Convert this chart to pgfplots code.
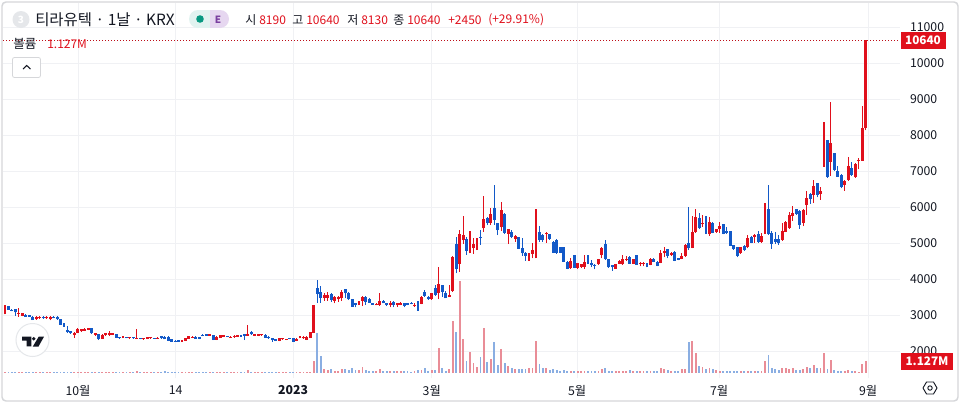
\documentclass[border=0pt]{standalone}
\usepackage{pgfplots}
\usepackage{pgfplotstable}
\pgfplotsset{compat=1.18}
\usepackage{fontspec}
\setmainfont{Noto Sans CJK KR}
\definecolor{cUp}{HTML}{E0101C}
\definecolor{cDn}{HTML}{1259C8}
\definecolor{vUp}{HTML}{E98D97}
\definecolor{vDn}{HTML}{8AAEE2}
\definecolor{cTxt}{HTML}{131722}
\definecolor{cGrid}{HTML}{F0F1F4}
\definecolor{cFrame}{HTML}{D6D7DA}
\definecolor{cBadgeA}{HTML}{E1F3F0}
\definecolor{cBadgeB}{HTML}{E6D7F0}
\definecolor{cGreen}{HTML}{089981}
\definecolor{cPurp}{HTML}{7B3FA0}
\pgfplotstableread{
i o h l c v
0 3030 3280 3020 3280 .09
1 3250 3260 3140 3150 .09
2 3150 3170 3100 3120 .09
3 3160 3170 2970 3070 .09
4 3030 3190 2950 3050 .09
5 2975 3060 2960 3045 .09
6 3010 3020 2950 2955 .09
7 2990 3000 2945 2955 .09
8 2955 2960 2855 2860 .09
9 2880 2970 2870 2950 .09
10 2910 2965 2900 2955 .09
11 2950 2960 2900 2910 .09
12 2905 2965 2900 2950 .09
13 2880 2965 2850 2955 .09
14 2955 2965 2905 2915 .09
15 2955 2960 2870 2880 .09
16 2880 2890 2725 2730 .09
17 2720 2780 2670 2675 .09
18 2580 2690 2500 2520 .09
19 2545 2560 2480 2490 .09
20 2440 2520 2370 2510 .09
21 2510 2630 2490 2610 .09
22 2545 2620 2530 2610 .09
23 2565 2630 2550 2620 .09
24 2585 2640 2570 2630 .09
25 2630 2640 2480 2490 .09
26 2445 2500 2430 2490 .09
27 2465 2470 2300 2325 .09
28 2345 2480 2330 2445 .09
29 2440 2500 2430 2490 .09
30 2445 2560 2430 2490 .09
31 2445 2500 2440 2490 .09
32 2465 2475 2360 2370 .09
33 2370 2380 2340 2350 .09
34 2370 2430 2355 2385 .09
35 2370 2385 2350 2360 .09
36 2360 2380 2330 2370 .09
37 2370 2385 2340 2350 .09
38 2335 2610 2330 2360 .19
39 2355 2365 2325 2335 .09
40 2325 2370 2315 2360 .09
41 2340 2390 2330 2380 .09
42 2350 2390 2340 2380 .09
43 2360 2370 2335 2345 .09
44 2345 2380 2335 2360 .09
45 2415 2425 2340 2350 .09
46 2400 2410 2320 2325 .19
47 2400 2410 2275 2280 .09
48 2325 2335 2255 2260 .09
49 2285 2295 2255 2260 .09
50 2305 2310 2255 2260 .09
51 2270 2310 2260 2300 .09
52 2285 2370 2275 2360 .09
53 2345 2430 2335 2415 .09
54 2370 2410 2360 2400 .09
55 2400 2410 2340 2345 .09
56 2380 2390 2325 2335 .09
57 2445 2460 2405 2415 .09
58 2465 2480 2420 2425 .09
59 2425 2475 2415 2465 .09
60 2445 2455 2300 2305 .09
61 2310 2410 2300 2400 .09
62 2370 2445 2360 2435 .09
63 2400 2445 2390 2435 .09
64 2420 2430 2385 2395 .09
65 2370 2410 2360 2400 .09
66 2380 2435 2370 2425 .09
67 2400 2455 2390 2445 .09
68 2430 2440 2390 2400 .09
69 2455 2465 2305 2430 .09
70 2425 2710 2415 2470 .3
71 2540 2550 2455 2465 .09
72 2425 2480 2415 2470 .09
73 2425 2480 2415 2470 .09
74 2435 2480 2425 2470 .09
75 2450 2460 2365 2370 .09
76 2400 2410 2345 2350 .09
77 2360 2370 2260 2305 .09
78 2325 2335 2275 2280 .09
79 2280 2360 2270 2350 .09
80 2325 2362 2315 2352 .09
81 2315 2340 2305 2330 .09
82 2350 2360 2325 2335 .09
83 2350 2360 2250 2260 .09
84 2285 2350 2275 2340 .09
85 2360 2410 2350 2400 .09
86 2350 2420 2340 2400 .09
87 2310 2430 2300 2400 .09
88 2370 2530 2360 2520 .1
89 2510 3280 2500 3280 1.12
90 3740 3972 3343 3583 3.79
91 3640 3805 3343 3470 1.6
92 3470 3620 3400 3545 .32
93 3480 3640 3400 3555 .26
94 3585 3600 3370 3415 .35
95 3400 3530 3320 3510 .22
96 3435 3530 3360 3510 .16
97 3460 3695 3400 3650 .35
98 3715 3730 3460 3600 .35
99 3620 3640 3415 3435 .26
100 3435 3450 3225 3230 .42
101 3325 3340 3210 3280 .26
102 3295 3400 3280 3360 .29
103 3400 3530 3250 3510 .55
104 3510 3530 3280 3370 .26
105 3455 3470 3335 3340 .19
106 3320 3330 3280 3285 .16
107 3270 3320 3265 3305 .16
108 3280 3600 3260 3400 .35
109 3400 3410 3320 3325 .19
110 3330 3340 3250 3285 .16
111 3280 3400 3210 3340 .16
112 3370 3400 3210 3280 .19
113 3270 3340 3230 3325 .16
114 3285 3350 3270 3335 .16
115 3325 3340 3215 3260 .16
116 3325 3340 3270 3285 .16
117 3340 3350 3295 3305 .1
118 3250 3325 3230 3290 .16
119 3325 3400 3120 3315 .26
120 3305 3530 3295 3510 .26
121 3650 3695 3510 3530 .45
122 3510 3530 3420 3435 .22
123 3435 3610 3420 3600 .26
124 3740 3830 3530 3565 .26
125 3620 4325 3435 3850 2.38
126 3830 3840 3510 3640 .45
127 3620 3675 3460 3460 .19
128 3500 3830 3500 3545 .35
129 3675 4640 3650 4600 4.98
130 4970 5180 4160 4270 3.92
131 4415 5360 4200 5240 8.8
132 5080 5750 4970 5220 3.24
133 5110 5180 4670 4790 1.12
134 4860 5330 4710 4920 1.99
135 4860 5130 4695 4970 .96
136 4860 5130 4800 4970 .55
137 5160 5360 4945 5140 1.54
138 5410 6300 5315 5660 4.3
139 5685 5730 5500 5545 1.06
140 5565 5960 5500 5805 1.32
141 5960 6610 5500 5640 2.95
142 5545 5565 5220 5360 .74
143 5435 6150 5340 5915 2.28
144 5800 5825 5250 5290 .96
145 5250 5380 4970 5380 .64
146 5305 5360 5130 5175 .42
147 5110 5220 5040 5195 .35
148 5160 5170 4830 4840 .35
149 4850 5130 4640 4710 .35
150 4730 4760 4510 4640 .35
151 4640 4730 4510 4710 .42
152 4695 5000 4575 4805 .48
153 4860 5935 4575 5130 3.05
154 5305 5470 5040 5085 .83
155 5220 5240 5040 5085 .45
156 5255 5305 5010 5270 .45
157 5240 5250 5090 5100 .29
158 5040 5060 4720 4730 .32
159 5085 5100 4700 4730 .26
160 4880 4900 4720 4730 .22
161 4880 4890 4470 4480 .26
162 4480 4490 4270 4280 .16
163 4295 4575 4280 4500 .16
164 4660 4670 4300 4315 .16
165 4315 4450 4285 4435 .16
166 4345 4430 4300 4410 .16
167 4340 4670 4290 4470 .22
168 4575 4670 4415 4435 .16
169 4435 4530 4320 4390 .16
170 4400 4415 4270 4370 .16
171 4410 4565 4390 4545 .16
172 4670 4880 4575 4860 .35
173 4970 5085 4530 4545 .45
174 4545 4550 4315 4325 .19
175 4390 4400 4230 4325 .16
176 4290 4430 4280 4415 .16
177 4425 4520 4410 4510 .16
178 4410 4660 4390 4545 .16
179 4530 4640 4500 4565 .16
180 4620 4640 4420 4425 .26
181 4425 4560 4415 4545 .16
182 4660 4670 4390 4400 .16
183 4405 4465 4350 4425 .16
184 4410 4465 4350 4420 .16
185 4415 4435 4325 4340 .16
186 4390 4575 4380 4565 .16
187 4565 4580 4470 4480 .16
188 4480 4490 4350 4360 .16
189 4455 4805 4435 4715 .42
190 4715 4880 4600 4780 .35
191 4825 4825 4575 4640 .26
192 4665 4760 4640 4715 .16
193 4760 4770 4500 4510 .16
194 4575 4585 4520 4530 .16
195 4555 4730 4545 4640 .35
196 4640 4975 4620 4945 .35
197 5000 5990 4805 4850 2.95
198 4860 5750 4850 5305 3.05
199 5305 5935 5290 5715 1.89
200 5695 5825 5380 5410 .64
201 5520 5780 5450 5530 .55
202 5610 5750 5250 5260 .32
203 5250 5715 5205 5585 .51
204 5565 5585 5270 5290 .32
205 5305 5400 5290 5380 .26
206 5380 5575 5290 5470 .19
207 5520 5530 5240 5250 .19
208 5335 5450 5250 5270 .22
209 5335 5345 4915 4925 .19
210 4935 4945 4815 4825 .22
211 4880 4890 4600 4640 .19
212 4715 4890 4700 4880 .16
213 4915 4955 4790 4805 .22
214 4880 5220 4850 5150 .19
215 5175 5195 4990 5010 .16
216 5175 5250 5010 5220 .16
217 5250 5340 5010 5030 .16
218 5030 5270 5010 5195 .16
219 5270 6100 5250 6055 1.12
220 5935 6610 5220 5240 1.7
221 5290 5335 4835 4975 .42
222 5100 5315 4970 5030 .32
223 5100 5220 4945 4990 .26
224 5085 5545 5065 5335 .42
225 5315 5600 5300 5590 .42
226 5410 5870 5390 5780 .35
227 5750 6030 5620 5825 .42
228 5935 5945 5790 5805 .26
229 5900 5915 5390 5500 .26
230 5565 5935 5470 5915 .39
231 6055 6455 5780 6240 .55
232 6360 6380 6085 6215 .45
233 6335 6750 6105 6585 .74
234 6655 6675 6270 6335 .45
235 6360 6545 6195 6435 .45
236 7565 8370 7120 7740 1.89
237 7860 7860 6815 6845 .35
238 7260 8910 6870 7770 1.22
239 7510 7510 7010 7030 .26
240 6990 7140 6840 6840 .19
241 6890 6915 6520 6565 .16
242 6610 6750 6450 6720 .16
243 6750 7380 6730 7140 .26
244 7090 7260 6870 6890 .19
245 6825 7215 6815 7195 .13
246 7270 7350 7045 7305 .1
247 7290 8805 7280 8185 .83
248 8190 10640 8130 10640 1.127
}\ohlc
\pgfplotsset{
  vpane/.style={
    scale only axis, width=672.75pt,
    xmin=-0.576, xmax=257.9,
    axis line style={draw=none}, unbounded coords=discard
  },
  stick/.style 2 args={forget plot, draw=none, mark=none,
    error bars/.cd, y dir=plus, y explicit, error mark=none,
    error bar style={draw=#1, line width=#2, line cap=butt}}
}
\begin{document}
\begin{tikzpicture}
\path[use as bounding box] (0,0) rectangle (720pt,-303pt);
\fill[white] (0,0) rectangle (720pt,-303pt);
% price pane
\begin{axis}[vpane, at={(2.25pt,-283.5pt)}, anchor=south west, height=281.25pt,
  ymin=1250, ymax=11667, clip=true,
  grid=major, grid style={cGrid, line width=0.75pt},
  major tick length=0pt,
  xtick={21.04,49.16,83,122.97,164.84,205.76,248.7},
  xticklabels={10월,14,\textbf{2023},3월,5월,7월,9월},
  x tick label style={font=\fontsize{9.2}{10}\selectfont, text=cTxt, yshift=-2pt},
  ytick={2000,3000,4000,5000,6000,7000,8000,9000,10000,11000},
  scaled y ticks=false,
  yticklabel pos=right,
  y tick label style={font=\fontsize{9.2}{10}\selectfont, text=cTxt, anchor=west, xshift=4pt},
  /pgf/number format/assume math mode=true,
  /pgf/number format/1000 sep={},
]
\addplot[stick={cUp}{0.8pt}] table[x=i, y expr={\thisrow{c}>=\thisrow{o} ? \thisrow{l} : nan}, y error expr={\thisrow{h}-\thisrow{l}}] {\ohlc};
\addplot[stick={cDn}{0.8pt}] table[x=i, y expr={\thisrow{c}<\thisrow{o} ? \thisrow{l} : nan}, y error expr={\thisrow{h}-\thisrow{l}}] {\ohlc};
\addplot[stick={cUp}{2.2pt}] table[x=i, y expr={\thisrow{c}>=\thisrow{o} ? \thisrow{o} : nan}, y error expr={max(\thisrow{c}-\thisrow{o},30)}] {\ohlc};
\addplot[stick={cDn}{2.2pt}] table[x=i, y expr={\thisrow{c}<\thisrow{o} ? \thisrow{c} : nan}, y error expr={max(\thisrow{o}-\thisrow{c},30)}] {\ohlc};
\addplot[forget plot, cUp!85!black, line width=0.6pt, dash pattern=on 0.75pt off 1.5pt] coordinates {(-0.576,10640) (257.9,10640)};
\end{axis}
% volume pane
\begin{axis}[vpane, at={(2.25pt,-279.6pt)}, anchor=south west, height=277.35pt,
  ymin=0, ymax=35.63, clip=true, xtick=\empty, ytick=\empty]
\addplot[forget plot, ycomb, mark=none, vUp, line width=1.4pt] table[x=i, y expr={\thisrow{c}>=\thisrow{o} ? \thisrow{v} : nan}] {\ohlc};
\addplot[forget plot, ycomb, mark=none, vDn, line width=1.4pt] table[x=i, y expr={\thisrow{c}<\thisrow{o} ? \thisrow{v} : nan}] {\ohlc};
\end{axis}
% chrome in reference pixels
\begin{scope}[x=0.75pt, y=-0.75pt]
\draw[cFrame, line width=1.1pt, rounded corners=3pt] (2,2) rectangle (958,401);
% header
\fill[cGrid!60!cFrame] (21,19.5) circle (8.5);
\node[text=white, font=\fontsize{7.5}{8}\selectfont\bfseries] at (21,19.5) {3};
\node[anchor=west, inner sep=0, text=cTxt, font=\fontsize{11.6}{13}\selectfont] at (35,20) {티라유텍 · 1날 · KRX};
\fill[cBadgeA] (198,19) circle (9);
\fill[cBadgeA] (198,10) rectangle (209.5,28);
\fill[cBadgeB] (220,19) circle (9);
\fill[cBadgeB] (209.5,10) rectangle (220,28);
\fill[cGreen] (200,19) circle (3.8);
\node[text=cPurp, font=\fontsize{7.5}{8}\selectfont\bfseries] at (218,19.3) {E};
\foreach \xx/\lab/\col in {245/시/cTxt,259/8190/cUp,292/고/cTxt,306/10640/cUp,347/저/cTxt,361/8130/cUp,393/종/cTxt,407/10640/cUp,448/+2450/cUp,488/(+29.91\%)/cUp}
  \node[anchor=west, inner sep=0, text=\col, font=\fontsize{9}{10}\selectfont] at (\xx,20) {\lab};
\node[anchor=west, inner sep=0, text=cTxt, font=\fontsize{9.4}{10}\selectfont] at (13,44) {볼륨};
\node[anchor=west, inner sep=0, text=cUp, font=\fontsize{9}{10}\selectfont] at (47,44) {1.127M};
\draw[cFrame, fill=white, line width=0.6pt, rounded corners=1.5pt] (12.5,57.5) rectangle (40.5,77.5);
\draw[cTxt, line width=0.8pt] (23,69) -- (26.7,65.5) -- (30.5,69);
% price tags
\fill[cUp] (900.5,32) rectangle (945.5,48.5);
\node[text=white, font=\fontsize{8.8}{10}\selectfont\bfseries] at (923,40.2) {10640};
\fill[cUp] (901,353) rectangle (953,370);
\node[text=white, font=\fontsize{8.8}{10}\selectfont\bfseries] at (927,361.5) {1.127M};
% logo
\draw[cGrid!60!cFrame, fill=white, line width=0.75pt] (32.5,340) circle (16.5);
\fill[cTxt] (22,336.7) -- (31.3,336.7) -- (31.3,346.3) -- (26.7,346.3) -- (26.7,340.7) -- (22,340.7) -- cycle;
\fill[cTxt] (33.8,338.7) circle (1.9);
\fill[cTxt] (38.7,336.7) -- (44,336.7) -- (38.5,346.5) -- (32.8,346.5) -- cycle;
% settings
\draw[cTxt, line width=0.7pt, line join=round] (923,388) -- (926.5,382) -- (933.5,382) -- (937,388) -- (933.5,394) -- (926.5,394) -- cycle;
\draw[cTxt, line width=0.7pt] (930,388) circle (2.2);
\end{scope}
\end{tikzpicture}
\end{document}
